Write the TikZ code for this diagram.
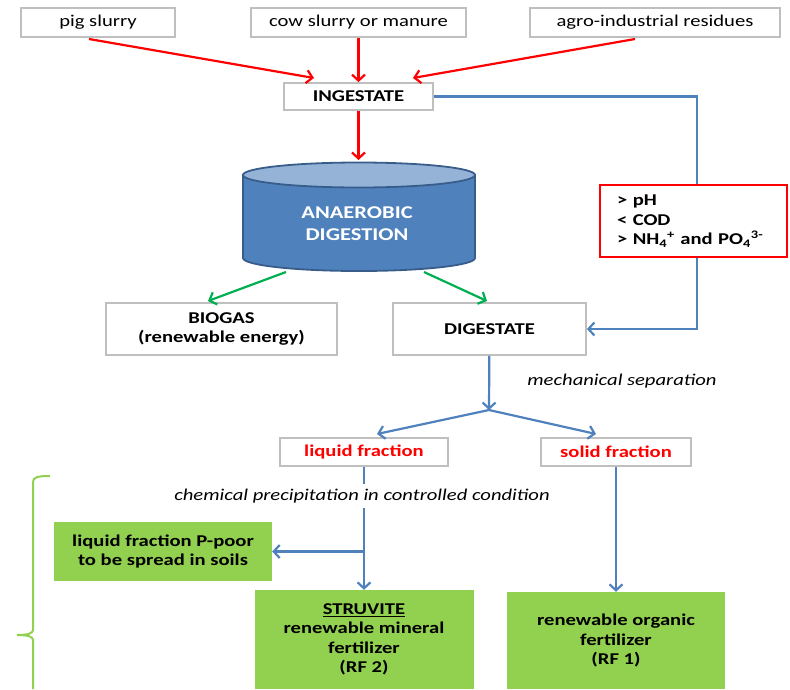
\documentclass[tikz,border=0pt]{standalone}
\usepackage{fontspec}
\setmainfont{Carlito}[FakeStretch=1.25]
\usetikzlibrary{arrows.meta}

\begin{document}
\begin{tikzpicture}[x=1pt,y=1pt,yscale=-1,xscale=1,
  plaintext/.style={font=\fontsize{16.5}{19.5}\selectfont},
  boldtext/.style={font=\fontsize{16.5}{19.5}\selectfont\bfseries},
  slanttext/.style={font=\fontsize{16.5}{19.5}\selectfont\itshape},
  graybox/.style={draw={rgb, 255:red, 191; green, 191; blue, 191 },line width=1.8pt,fill=white,inner sep=0pt,align=center},
  greenbox/.style={fill={rgb, 255:red, 146; green, 208; blue, 80 },inner sep=0pt,align=center},
  redarrow/.style={draw={rgb, 255:red, 255; green, 0; blue, 0 },line width=2.2pt,-{Straight Barb[length=6pt,width=13pt]}},
  bluearrow/.style={draw={rgb, 255:red, 79; green, 129; blue, 189 },line width=2.2pt,-{Straight Barb[length=6pt,width=13pt]}},
  greenarrow/.style={draw={rgb, 255:red, 0; green, 176; blue, 80 },line width=2.2pt,-{Straight Barb[length=6pt,width=13pt]}}]
\useasboundingbox (0,0) rectangle (790,689);
% Text Node
\node [graybox,plaintext,minimum width=154,minimum height=29] (pig) at (98,22.5) {pig slurry};
% Text Node
\node [graybox,plaintext,minimum width=215,minimum height=29] (cow) at (358.5,22.5) {cow slurry or manure};
% Text Node
\node [graybox,plaintext,minimum width=250,minimum height=29] (agro) at (655,22.5) {agro-industrial residues};
% Text Node
\node [graybox,boldtext,minimum width=149,minimum height=27] (ingestate) at (358.5,96.5) {INGESTATE};
%Straight Lines
\coordinate (pigout) at (89,39);
\coordinate (pigin) at (314,78);
\coordinate (agroout) at (635,39);
\coordinate (agroin) at (413,78);
\draw [redarrow] (pigout) -- (pigin);
\draw [redarrow] (cow) -- (ingestate);
\draw [redarrow] (agroout) -- (agroin);
%Shape: Can
\draw [fill={rgb, 255:red, 79; green, 129; blue, 189 },draw={rgb, 255:red, 56; green, 93; blue, 138 },line width=1.8pt] (243,175) -- (243,258) .. controls (243,265.2) and (294.9,271) .. (359,271) .. controls (423.1,271) and (475,265.2) .. (475,258) -- (475,175) -- cycle ;
\draw [fill={rgb, 255:red, 149; green, 179; blue, 215 },draw={rgb, 255:red, 56; green, 93; blue, 138 },line width=1.8pt] (359,175) ellipse [x radius=116,y radius=12.5];
% Text Node
\node [font=\fontsize{18}{22}\selectfont\bfseries,text=white,align=center] (ad) at (357,224) {ANAEROBIC\\DIGESTION};
\coordinate (adtop) at (358.5,160);
\draw [redarrow] (ingestate) -- (adtop);
% Text Node
\node [graybox,boldtext,minimum width=231,minimum height=52] (biogas) at (221.5,329) {BIOGAS\\(renewable energy)};
% Text Node
\node [graybox,boldtext,minimum width=193,minimum height=52] (digestate) at (489.5,329) {DIGESTATE};
%Straight Lines
\coordinate (adleft) at (286,272);
\coordinate (biogasin) at (208,301);
\coordinate (adright) at (424,272);
\coordinate (digestatein) at (487,301);
\draw [greenarrow] (adleft) -- (biogasin);
\draw [greenarrow] (adright) -- (digestatein);
%Straight Lines
\coordinate (bypass) at (697,329);
\draw [bluearrow] (ingestate.east) -| (bypass) -- (digestate.east);
% Text Node
\node [draw={rgb, 255:red, 255; green, 0; blue, 0 },line width=1.5pt,fill=white,boldtext,inner xsep=17pt,inner ysep=0pt,text width=153pt,minimum height=72,align=left] (conditions) at (693.5,221) {> pH\\< COD\\> NH\textsubscript{4}\textsuperscript{+} and PO\textsubscript{4}\textsuperscript{3-}};
% Text Node
\node [slanttext] (mech) at (622,381) {mechanical separation};
\coordinate (split) at (489,410);
\draw [bluearrow] (digestate) -- (split);
% Text Node
\node [graybox,boldtext,text={rgb, 255:red, 255; green, 0; blue, 0 },minimum width=168,minimum height=28] (liquid) at (364,452) {liquid fraction};
% Text Node
\node [graybox,boldtext,text={rgb, 255:red, 255; green, 0; blue, 0 },minimum width=150,minimum height=28] (solid) at (616,452) {solid fraction};
\coordinate (liquidin) at (377,434);
\coordinate (solidin) at (596,434);
\draw [bluearrow] (split) -- (liquidin);
\draw [bluearrow] (split) -- (solidin);
% Text Node
\node [greenbox,boldtext,minimum width=218,minimum height=59] (ppoor) at (163,551.5) {liquid fraction P-poor\\to be spread in soils};
% Text Node
\node [greenbox,boldtext,minimum width=219,minimum height=99] (struvite) at (364,639.5) {\underline{STRUVITE}\\renewable mineral\\fertilizer\\(RF 2)};
% Text Node
\node [greenbox,boldtext,minimum width=218,minimum height=97] (organic) at (616,640.5) {renewable organic\\fertilizer\\(RF 1)};
%Straight Lines
\draw [bluearrow] (liquid) -- (struvite);
\coordinate (branch) at (364,551.5);
\draw [bluearrow] (branch) -- (ppoor);
\draw [bluearrow] (solid) -- (organic);
% Text Node
\node [slanttext,fill=white,inner xsep=2pt,inner ysep=5pt] (chem) at (362,496) {chemical precipitation in controlled condition};
%Shape: Brace
\draw [draw={rgb, 255:red, 146; green, 208; blue, 80 },line width=2pt] (50,476) .. controls (38,476) and (33,477) .. (33,482) -- (33,630) .. controls (33,633) and (29,635) .. (17,635) .. controls (29,635) and (33,637) .. (33,640) -- (33,689) ;
\end{tikzpicture}
\end{document}
